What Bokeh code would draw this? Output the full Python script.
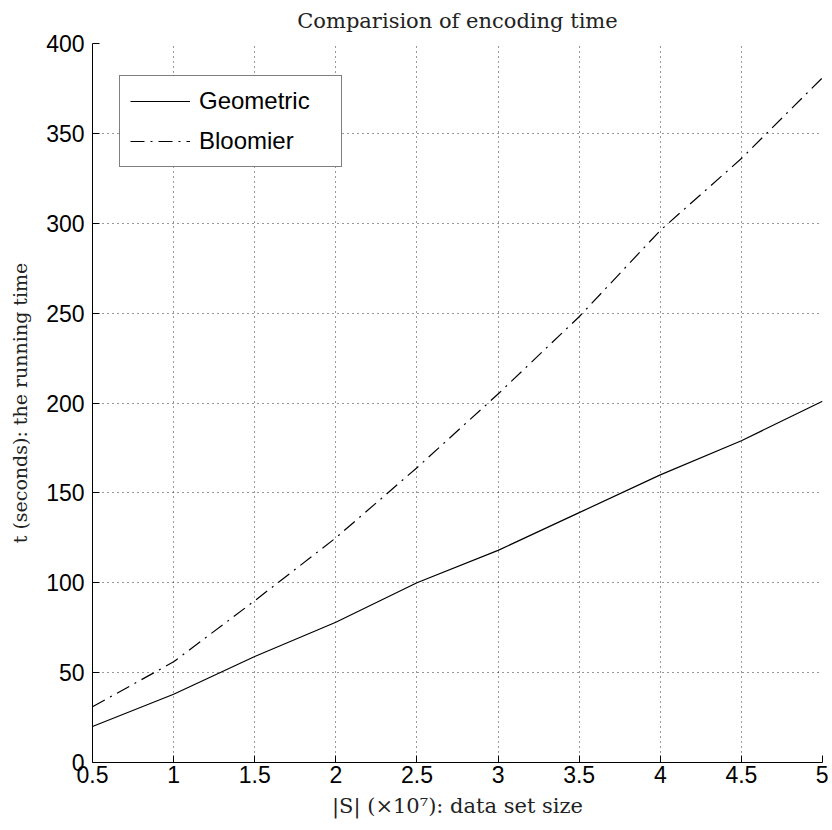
from bokeh.plotting import figure
from bokeh.models import Range1d, FixedTicker, Legend, LegendItem
from bokeh.embed import file_html
from bokeh.resources import INLINE

# data
x_size = [0.5, 1.0, 1.5, 2.0, 2.5, 3.0, 3.5, 4.0, 4.5, 5.0]
geometric = [20, 38, 59, 78, 100, 118, 139, 160, 179, 201]
bloomier = [31, 56, 90, 125, 164, 205, 248, 296, 336, 381]

x_ticks = [0.5, 1, 1.5, 2, 2.5, 3, 3.5, 4, 4.5, 5]
x_tick_labels = ["0.5", "1", "1.5", "2", "2.5", "3", "3.5", "4", "4.5", "5"]
y_ticks = [0, 50, 100, 150, 200, 250, 300, 350, 400]
y_tick_labels = ["0", "50", "100", "150", "200", "250", "300", "350", "400"]

title_text = "Comparision of encoding time"
x_label = "|S| (×10⁷): data set size"
y_label = "t (seconds): the running time"
series_names = ["Geometric", "Bloomier"]

p = figure(width=828, height=822, output_backend="svg", toolbar_location=None,
           x_range=Range1d(0.5, 5), y_range=Range1d(0, 400),
           min_border_left=92, min_border_right=6, min_border_top=43, min_border_bottom=60)
p.outline_line_color = None
p.background_fill_color = "white"
p.border_fill_color = "white"

p.title.text = title_text
p.title.align = "center"
p.title.vertical_align = "top"
p.title.text_font = "DejaVu Serif"
p.title.text_font_style = "normal"
p.title.text_font_size = "21px"
p.title.text_color = "#222222"
p.title.standoff = 17

for ax in (p.xaxis[0], p.yaxis[0]):
    ax.axis_line_color = "black"
    ax.axis_line_width = 1
    ax.major_tick_in = 7
    ax.major_tick_out = 0
    ax.minor_tick_line_color = None
    ax.major_tick_line_color = "black"
    ax.major_label_text_font = "Liberation Sans"
    ax.major_label_text_font_size = "23px"
    ax.major_label_text_color = "black"
    ax.axis_label_text_font = "DejaVu Serif"
    ax.axis_label_text_font_style = "normal"
    ax.axis_label_text_color = "#222222"

p.xaxis[0].axis_label_text_font_size = "21px"
p.yaxis[0].axis_label_text_font_size = "19px"
p.xaxis[0].ticker = FixedTicker(ticks=x_ticks)
p.xaxis[0].major_label_overrides = dict(zip(x_ticks, x_tick_labels))
p.yaxis[0].ticker = FixedTicker(ticks=y_ticks)
p.yaxis[0].major_label_overrides = dict(zip(y_ticks, y_tick_labels))
p.xaxis[0].axis_label = x_label
p.yaxis[0].axis_label = y_label
p.xaxis[0].major_label_standoff = 3
p.yaxis[0].major_label_standoff = 8
p.xaxis[0].axis_label_standoff = 8
p.yaxis[0].axis_label_standoff = 12

for g in (p.xgrid[0], p.ygrid[0]):
    g.grid_line_color = "black"
    g.grid_line_dash = "1 4"
    g.grid_line_width = 1
    g.grid_line_alpha = 0.8

r1 = p.line(x_size, geometric, line_color="black", line_width=1.2)
r2 = p.line(x_size, bloomier, line_color="black", line_width=1.2, line_dash="14 6 2 6")

legend = Legend(items=[LegendItem(label=series_names[0], renderers=[r1]),
                       LegendItem(label=series_names[1], renderers=[r2])],
                location=(27, 595))
legend.border_line_color = "black"
legend.border_line_width = 1
legend.background_fill_color = "white"
legend.background_fill_alpha = 1
legend.label_text_font = "Liberation Sans"
legend.label_text_font_size = "24px"
legend.label_text_color = "black"
legend.glyph_width = 60
legend.glyph_height = 30
legend.label_width = 132
legend.spacing = 10
legend.padding = 10
legend.label_standoff = 9
legend.margin = 0
p.add_layout(legend, "center")

open("out.html", "w").write(file_html(p, INLINE))
